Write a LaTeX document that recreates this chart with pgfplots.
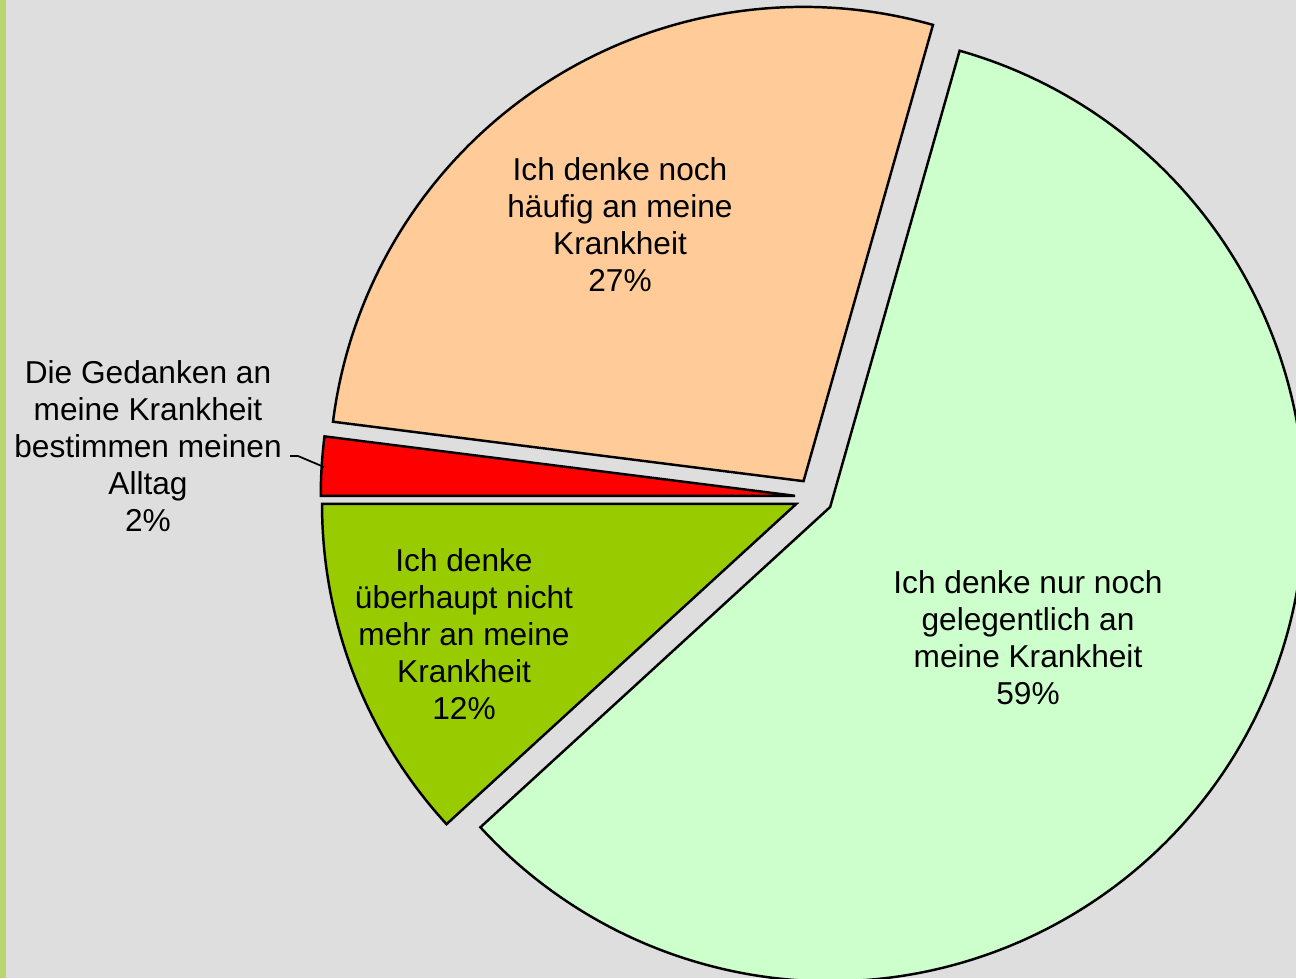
\documentclass[border=0pt]{standalone}
\usepackage{pgfplots}
\usepackage{pgfplotstable}
\pgfplotsset{compat=1.18}
\usepackage{fontspec}
\setmainfont{Liberation Sans}

\definecolor{bgGray}{RGB}{222,222,222}
\definecolor{stripe}{RGB}{184,214,112}
\definecolor{sRed}{RGB}{255,0,0}
\definecolor{sOrange}{RGB}{255,204,153}
\definecolor{sLight}{RGB}{204,255,204}
\definecolor{sGreen}{RGB}{153,204,0}

% shares in percent, clockwise from 180 degrees
\pgfplotstableread{
pct color
2.0 sRed
27.4 sOrange
58.8 sLight
11.8 sGreen
}\piedata

% centre, radius and explode distance in axis units (1 unit = 0.01cm)
\def\cx{814}
\def\cy{481}
\def\rad{4.74cm}
\def\expl{19}

\newcommand\slice[3]{%
  \pgfmathsetmacro\slE{#1-3.6*#2}%
  \pgfmathsetmacro\slM{(#1+\slE)/2}%
  \pgfmathsetmacro\slX{\cx+\expl*cos(\slM)}%
  \pgfmathsetmacro\slY{\cy+\expl*sin(\slM)}%
  \edef\tmp{\noexpand\filldraw[fill=#3,draw=black,line width=0.7pt]
    (axis cs:\slX,\slY) -- ++(#1:\rad)
    arc[start angle=#1,end angle=\slE,radius=\rad] -- cycle;}%
  \tmp
}

\begin{document}
\begin{tikzpicture}
\begin{axis}[
    name=ax,
    x=0.01cm, y=0.01cm,
    xmin=0, xmax=1296, ymin=0, ymax=978,
    hide axis,
    clip=true,
]
\fill[bgGray] (axis cs:0,0) rectangle (axis cs:1296,978);
\fill[stripe] (axis cs:0,0) rectangle (axis cs:6,978);

\begin{scope}
\clip (axis cs:0,0) rectangle (axis cs:1296,978);
\def\cum{180}
\pgfplotsforeachungrouped \i in {0,...,3}{%
  \pgfplotstablegetelem{\i}{pct}\of\piedata \let\p\pgfplotsretval
  \pgfplotstablegetelem{\i}{color}\of\piedata \let\c\pgfplotsretval
  \slice{\cum}{\p}{\c}%
  \pgfmathsetmacro\cum{\cum-3.6*\p}%
}
\end{scope}

\draw[black, line width=0.5pt] (axis cs:290,522) -- (axis cs:298,522) -- (axis cs:324,511);

\begin{scope}[every node/.style={align=center, font=\fontsize{9}{10.5}\selectfont, text=black}]
\node at (axis cs:620,753) {Ich denke noch\\häufig an meine\\Krankheit\\27\%};
\node at (axis cs:1028,340) {Ich denke nur noch\\gelegentlich an\\meine Krankheit\\59\%};
\node at (axis cs:464,344) {Ich denke\\überhaupt nicht\\mehr an meine\\Krankheit\\12\%};
\node at (axis cs:148,532) {Die Gedanken an\\meine Krankheit\\bestimmen meinen\\Alltag\\2\%};
\end{scope}
\end{axis}
\pgfresetboundingbox
\path[use as bounding box] (ax.south west) rectangle (ax.north east);
\end{tikzpicture}
\end{document}
